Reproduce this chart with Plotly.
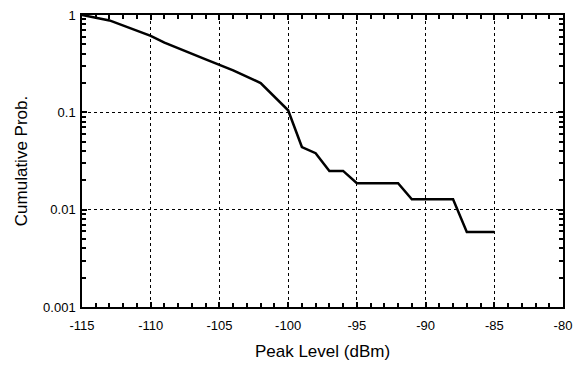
import plotly.graph_objects as go

peak_dbm = [-115, -113, -110, -109, -106, -105, -104, -102, -100, -99, -98, -97, -96, -95, -92, -91, -88, -87, -85]
cum_prob = [1.0, 0.88, 0.61, 0.52, 0.35, 0.31, 0.27, 0.20, 0.105, 0.044, 0.038, 0.025, 0.025, 0.0187, 0.0187, 0.0128, 0.0128, 0.0059, 0.0059]

x_ticks = [-115, -110, -105, -100, -95, -90, -85, -80]
x_tick_labels = ["-115", "-110", "-105", "-100", "-95", "-90", "-85", "-80"]
x_minor = list(range(-115, -79))
y_ticks = [0.001, 0.01, 0.1, 1]
y_tick_labels = ["0.001", "0.01", "0.1", "1"]
y_minor = [m * 10 ** e for e in (-3, -2, -1) for m in range(2, 10)]

fig = go.Figure()
fig.add_trace(go.Scatter(x=peak_dbm, y=cum_prob, mode="lines",
                         line=dict(color="black", width=2.5), showlegend=False))

font = dict(family="Liberation Sans, Arial, sans-serif", color="black")

fig.update_layout(
    width=583, height=366,
    margin=dict(l=82, r=20, t=15, b=59),
    paper_bgcolor="white", plot_bgcolor="white",
    font=dict(size=13, **font),
    xaxis=dict(
        range=[-115, -80], tickmode="array", tickvals=x_ticks, ticktext=x_tick_labels,
        ticks="inside", ticklen=5, tickwidth=1.5, tickcolor="black",
        showline=True, linecolor="black", linewidth=1.5, mirror="ticks",
        showgrid=True, gridcolor="black", griddash="dot", gridwidth=1,
        zeroline=False, ticklabelstandoff=6, automargin=False,
        minor=dict(tickmode="array", tickvals=x_minor, ticks="inside", ticklen=4,
                   tickcolor="black", tickwidth=1.5, showgrid=False),
        title=dict(text="Peak Level (dBm)", font=dict(size=17, **font), standoff=13),
        tickfont=dict(size=13, **font),
    ),
    yaxis=dict(
        type="log", range=[-3, 0], tickmode="array", tickvals=y_ticks, ticktext=y_tick_labels,
        ticks="inside", ticklen=5, tickwidth=1.5, tickcolor="black",
        showline=True, linecolor="black", linewidth=1.5, mirror="ticks",
        showgrid=True, gridcolor="black", griddash="dot", gridwidth=1,
        zeroline=False, ticklabelstandoff=2, automargin=False,
        minor=dict(tickmode="array", tickvals=y_minor, ticks="inside", ticklen=4,
                   tickcolor="black", tickwidth=1.5, showgrid=False),
        title=dict(text="Cumulative Prob.", font=dict(size=17, **font), standoff=11),
        tickfont=dict(size=13, **font),
    ),
)

fig.write_html("out.html")
